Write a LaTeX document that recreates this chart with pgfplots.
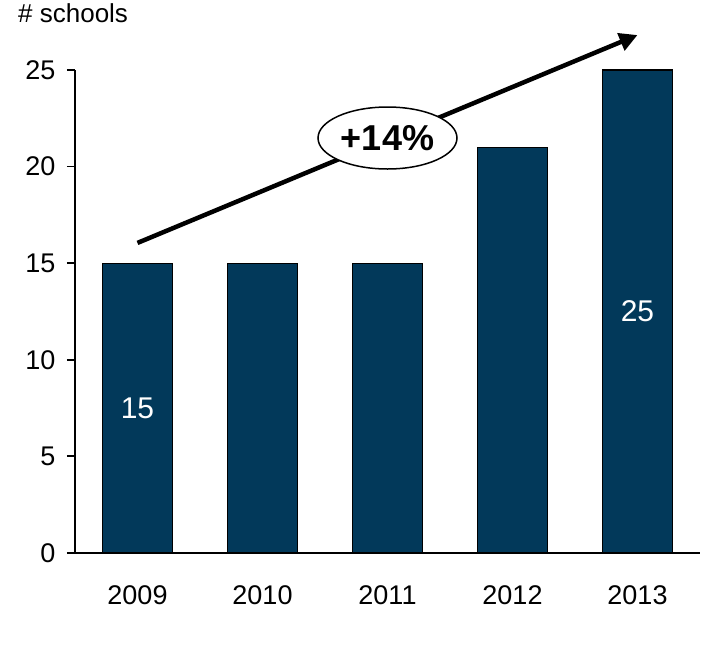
\documentclass[border=0pt]{standalone}
\usepackage{pgfplots}
\pgfplotsset{compat=1.18}
\usepackage{fontspec}
\setmainfont{Liberation Sans}
\usetikzlibrary{arrows.meta,shapes.geometric}
\definecolor{barblue}{RGB}{2,57,90}
\begin{document}
\begin{tikzpicture}
\useasboundingbox (0,0) rectangle (702pt,648pt);
\node[anchor=base west, font=\fontsize{26}{30}\selectfont, inner sep=0] at (18pt,625pt) {\# schools};
\begin{axis}[
  at={(75pt,95pt)}, anchor=south west,
  scale only axis, width=625pt, height=483pt,
  xmin=-0.5, xmax=4.5, ymin=0, ymax=25,
  axis x line*=bottom, axis y line*=left,
  ybar, bar width=70pt,
  xtick={0,1,2,3,4}, xticklabels={2009,2010,2011,2012,2013},
  ytick={0,5,10,15,20,25},
  tick align=outside,
  major tick length=8pt,
  xtick style={draw=none},
  ticklabel style={font=\fontsize{27}{32}\selectfont},
  /pgf/number format/assume math mode=true,
  xticklabel style={yshift=-21pt},
  yticklabel style={xshift=-8pt},
  axis line style={line width=1.8pt},
  ytick style={line width=1.8pt, black},
  clip=false,
]
\addplot[fill=barblue, draw=black, line width=1.2pt] coordinates {(0,15) (1,15) (2,15) (3,21) (4,25)};
\draw[line width=4.5pt, -{Triangle[length=18pt,width=18pt]}] (axis cs:0,16.05) -- (axis cs:4,26.81);
\node[ellipse, draw, fill=white, line width=1.5pt, minimum width=139pt, minimum height=62pt, inner sep=0, font=\bfseries\fontsize{36}{40}\selectfont] at (axis cs:2.0,21.48) {+14\%};
\node[text=white, font=\fontsize{30}{34}\selectfont] at (axis cs:0,7.5) {15};
\node[text=white, font=\fontsize{30}{34}\selectfont] at (axis cs:4,12.5) {25};
\end{axis}
\end{tikzpicture}
\end{document}
